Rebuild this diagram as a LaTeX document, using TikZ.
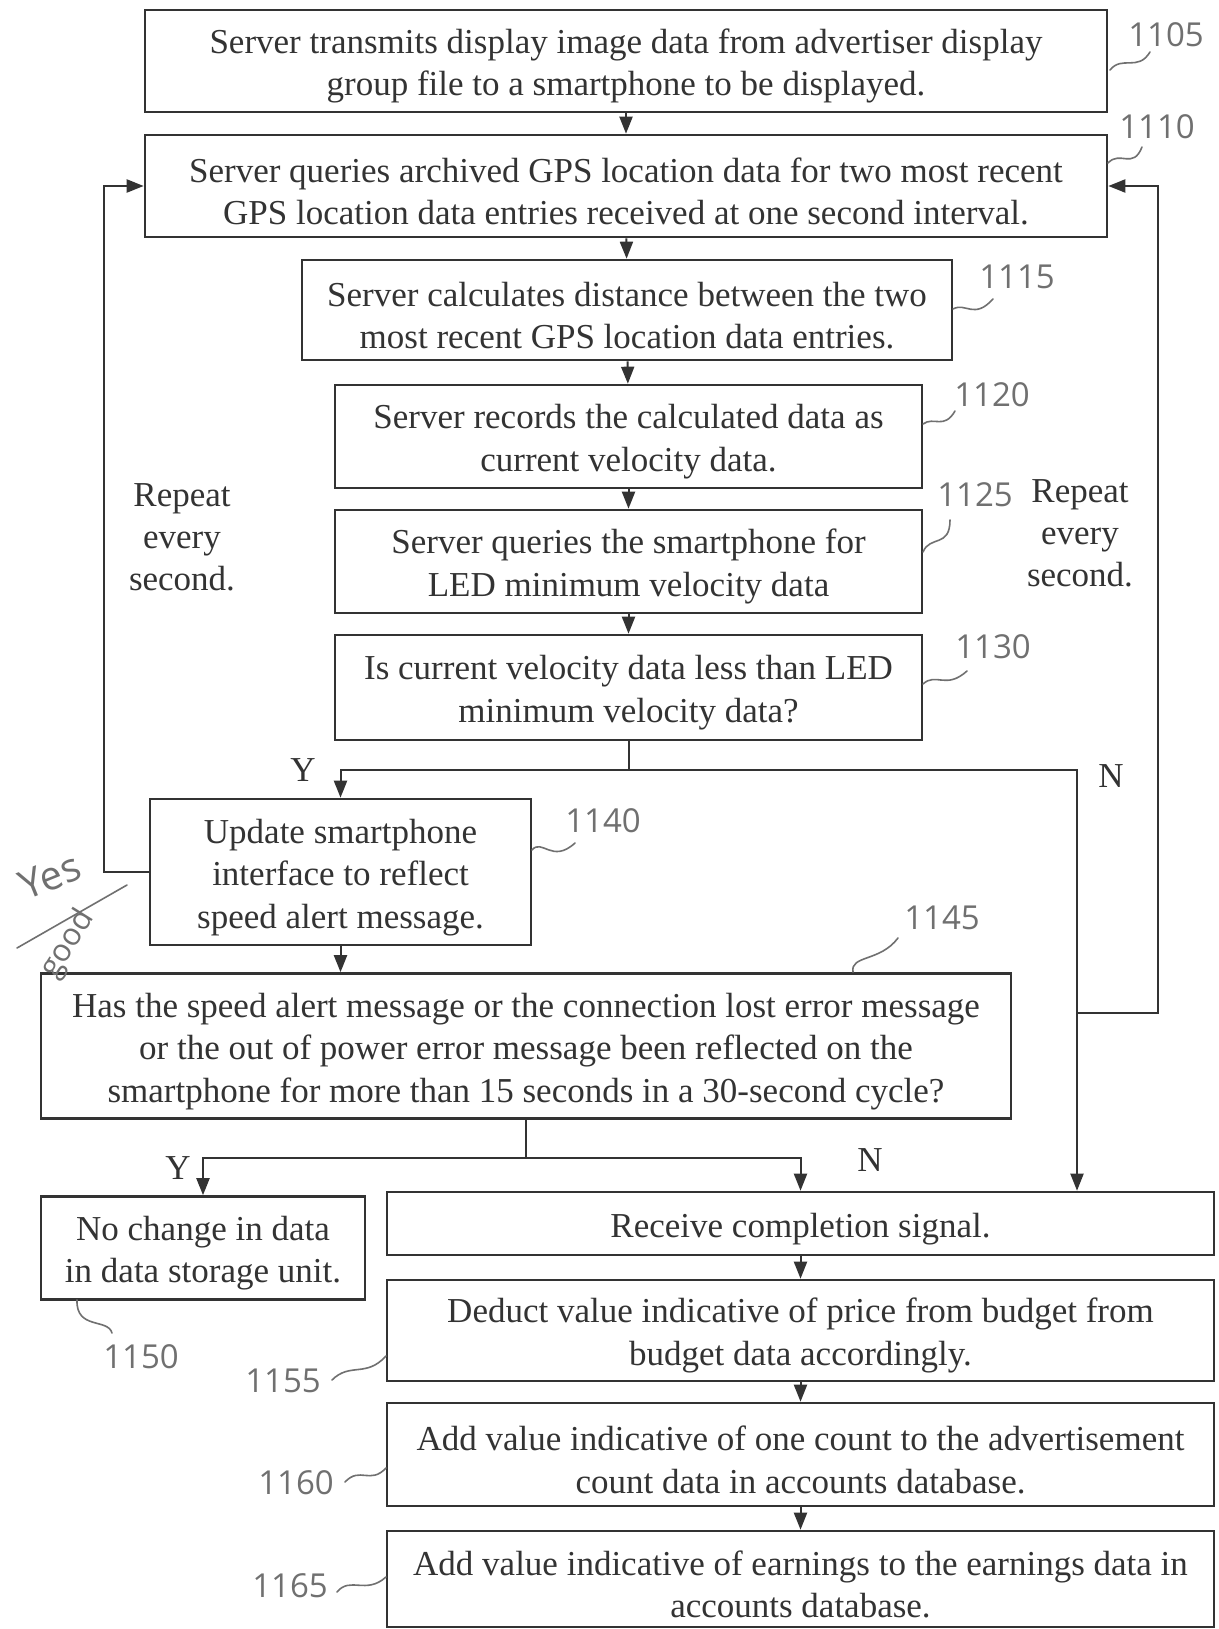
\documentclass[tikz,border=0pt]{standalone}
\usepackage{fontspec}
\setmainfont{Liberation Serif}
\newfontfamily\handfont{Open Sans}
\usetikzlibrary{arrows.meta}
\definecolor{ink}{HTML}{333333}
\definecolor{pencil}{HTML}{707070}
% extra room above the first line of each box text
\newcommand\topgap{\rule{0pt}{35pt}}

\begin{document}
\begin{tikzpicture}[x=1pt,y=-1pt,
  box/.style={draw=ink, line width=2.6pt, align=center, inner sep=0pt,
    font=\fontsize{35}{42.5}\selectfont, text=ink},
  flow/.style={draw=ink, line width=2pt, -{Triangle[length=17pt,width=13pt]}},
  link/.style={draw=ink, line width=2pt},
  lbl/.style={font=\fontsize{35}{42}\selectfont, text=ink, align=center, inner sep=0pt},
  refnum/.style={font=\handfont\fontsize{33}{33}\selectfont, text=pencil, inner sep=0pt},
  lead/.style={draw=pencil, line width=1.6pt, line cap=round}]

% page frame
\fill[white] (0,0) rectangle (1218,1629);
\useasboundingbox (0,0) rectangle (1218,1629);

% process boxes
\node[box, minimum width=962pt, minimum height=102pt] (b1105) at (626,61)
  {\topgap Server transmits display image data from advertiser display\\group file to a smartphone to be displayed.};
\node[box, minimum width=962pt, minimum height=102pt] (b1110) at (626,186)
  {\topgap Server queries archived GPS location data for two most recent\\GPS location data entries received at one second interval.};
\node[box, minimum width=650pt, minimum height=100pt] (b1115) at (627,310)
  {\topgap Server calculates distance between the two\\most recent GPS location data entries.};
\node[box, minimum width=587pt, minimum height=103pt] (b1120) at (628.5,436.5)
  {\topgap Server records the calculated data as\\current velocity data.};
\node[box, minimum width=587pt, minimum height=103pt] (b1125) at (628.5,561.5)
  {\topgap Server queries the smartphone for\\LED minimum velocity data};
\node[box, minimum width=587pt, minimum height=105pt] (b1130) at (628.5,687.5)
  {\topgap Is current velocity data less than LED\\minimum velocity data?};
\node[box, minimum width=381pt, minimum height=146pt] (b1140) at (340.5,872)
  {\topgap Update smartphone\\interface to reflect\\speed alert message.};
\node[box, minimum width=970pt, minimum height=145pt] (b1145) at (526,1046)
  {\topgap Has the speed alert message or the connection lost error message\\or the out of power error message been reflected on the\\smartphone for more than 15 seconds in a 30-second cycle?};
\node[box, minimum width=324pt, minimum height=103pt] (b1150) at (203,1248)
  {\topgap No change in data\\in data storage unit.};
\node[box, minimum width=827pt, minimum height=63pt] (brecv) at (800.5,1223.5)
  {\topgap Receive completion signal.};
\node[box, minimum width=827pt, minimum height=101pt] (bdeduct) at (800.5,1330.5)
  {\topgap Deduct value indicative of price from budget from\\budget data accordingly.};
\node[box, minimum width=827pt, minimum height=103pt] (bcount) at (800.5,1454.5)
  {\topgap Add value indicative of one count to the advertisement\\count data in accounts database.};
\node[box, minimum width=827pt, minimum height=96pt] (bearn) at (800.5,1579)
  {\topgap Add value indicative of earnings to the earnings data in\\accounts database.};

% main column
\draw[flow] (b1105) -- (b1110);
\draw[flow] (b1110) -- (b1115);
\draw[flow] (b1115) -- (b1120);
\draw[flow] (b1120) -- (b1125);
\draw[flow] (b1125) -- (b1130);

% decision 1130
\coordinate (j1) at (628.5,770);
\coordinate (nsplit) at (1077,1013);
\draw[link] (b1130.south) -- (j1);
\draw[flow] (j1) -| (b1140.north);
\draw[flow] (j1) -| (nsplit |- brecv.north);
\draw[flow] (nsplit) -- ++(81,0) |- (b1110.east);

% loop back from 1140
\draw[flow] (b1140.west) -- ++(-45,0) |- (b1110.west);
\draw[flow] (b1140.south) -- (b1140.south |- b1145.north);

% decision 1145
\coordinate (j2) at (526,1158);
\draw[link] (b1145.south) -- (j2);
\draw[flow] (j2) -| (b1150.north);
\draw[flow] (j2) -| (brecv.north);

% tail
\draw[flow] (brecv) -- (bdeduct);
\draw[flow] (bdeduct) -- (bcount);
\draw[flow] (bcount) -- (bearn);

% branch labels
\node[lbl] (ly1) at (303,770) {Y};
\node[lbl] (ln1) at (1111,776) {N};
\node[lbl] (ly2) at (178,1168) {Y};
\node[lbl] (ln2) at (870,1160) {N};
\node[lbl] (rep1) at (182,537) {Repeat\\every\\second.};
\node[lbl] (rep2) at (1080,533) {Repeat\\every\\second.};

% reference numerals with lead lines
\node[refnum] (r1105) at (1166,35) {1105};
\draw[lead] (1110,70) .. controls (1122,55) and (1138,72) .. (1150,52);
\node[refnum] (r1110) at (1157,127) {1110};
\draw[lead] (1108,163) .. controls (1120,150) and (1133,170) .. (1142,147);
\node[refnum] (r1115) at (1017,277) {1115};
\draw[lead] (953,309) .. controls (966,302) and (974,320) .. (993,299);
\node[refnum] (r1120) at (992,395) {1120};
\draw[lead] (923,424) .. controls (934,416) and (944,430) .. (955,411);
\node[refnum] (r1125) at (975,495) {1125};
\draw[lead] (923,552) .. controls (930,535) and (950,548) .. (950,520);
\node[refnum] (r1130) at (993,647) {1130};
\draw[lead] (923,684) .. controls (936,672) and (946,690) .. (967,671);
\node[refnum] (r1140) at (603,821) {1140};
\draw[lead] (532,850) .. controls (542,838) and (552,864) .. (575,843);
\node[refnum] (r1145) at (942,918) {1145};
\draw[lead] (853,972) .. controls (850,955) and (880,962) .. (898,938);
\node[refnum] (r1150) at (141,1357) {1150};
\draw[lead] (77,1300) .. controls (76,1330) and (108,1318) .. (112,1333);
\node[refnum] (r1155) at (283,1381) {1155};
\draw[lead] (332,1380) .. controls (350,1362) and (366,1378) .. (386,1356);
\node[refnum] (r1160) at (296,1483) {1160};
\draw[lead] (345,1482) .. controls (360,1466) and (370,1485) .. (386,1468);
\node[refnum] (r1165) at (290,1586) {1165};
\draw[lead] (337,1592) .. controls (350,1576) and (366,1595) .. (386,1577);

% pencilled note beside 1140
\node[refnum, rotate=22, font=\handfont\fontsize{40}{40}\selectfont] (note1) at (50,876) {Yes};
\draw[lead] (17,948) -- (127,885);
\node[refnum, rotate=58, font=\handfont\fontsize{31}{31}\selectfont] (note2) at (68,944) {good};
\end{tikzpicture}
\end{document}
